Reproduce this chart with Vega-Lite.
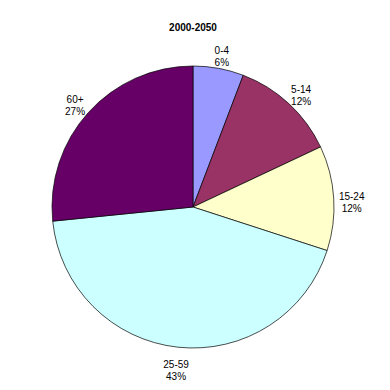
{
  "$schema": "https://vega.github.io/schema/vega-lite/v6.json",
  "autosize": "none",
  "width": 386,
  "height": 334,
  "padding": {"left": 0, "top": 40, "right": 4, "bottom": 16},
  "background": "white",
  "title": {"text": "2000-2050", "font": "Liberation Sans", "fontSize": 10, "fontWeight": "bold", "color": "black", "anchor": "middle", "offset": 7},
  "data": {"values": [
    {"group": "0-4", "value": 5.8, "o": 1, "label": "0-4\n6%"},
    {"group": "5-14", "value": 12.2, "o": 2, "label": "5-14\n12%"},
    {"group": "15-24", "value": 12.0, "o": 3, "label": "15-24\n12%"},
    {"group": "25-59", "value": 43.4, "o": 4, "label": "25-59\n43%"},
    {"group": "60+", "value": 26.6, "o": 5, "label": "60+\n27%"}
  ]},
  "encoding": {
    "theta": {"field": "value", "type": "quantitative", "stack": true},
    "order": {"field": "o", "type": "quantitative"}
  },
  "layer": [
    {
      "mark": {"type": "arc", "outerRadius": 141, "stroke": "#000000", "strokeWidth": 0.7},
      "encoding": {
        "color": {"field": "group", "type": "nominal", "legend": null,
          "scale": {"domain": ["0-4", "5-14", "15-24", "25-59", "60+"], "range": ["#9999FF", "#993366", "#FFFFCC", "#CCFFFF", "#660066"]}}
      }
    },
    {
      "mark": {"type": "text", "radius": 159, "font": "Liberation Sans", "fontSize": 10, "color": "#000000", "lineBreak": "\n", "align": "center", "baseline": "middle", "lineHeight": 12},
      "encoding": {"text": {"field": "label", "type": "nominal"}}
    }
  ],
  "config": {"view": {"stroke": null}}
}
